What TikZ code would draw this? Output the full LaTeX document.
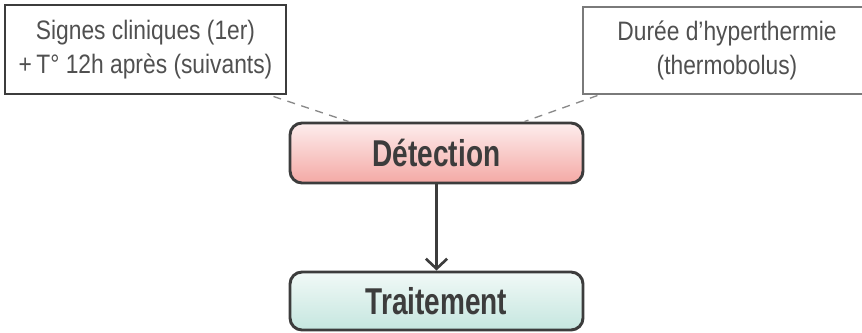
\documentclass[tikz,border=0pt]{standalone}
\usepackage{fontspec}
\setmainfont{Liberation Sans}[FakeStretch=0.855]
\newfontfamily\headfont{Liberation Sans}[FakeStretch=0.75]
\usetikzlibrary{arrows.meta,calc}

\definecolor{ink}{HTML}{3C3C3C}
\definecolor{txt}{HTML}{505050}
\definecolor{dashgray}{HTML}{8A8A8A}
\definecolor{thinborder}{HTML}{7A7A7A}
\definecolor{detecttop}{HTML}{FDEDED}
\definecolor{detectbot}{HTML}{F4A9A5}
\definecolor{treattop}{HTML}{F1F9F7}
\definecolor{treatbot}{HTML}{C5E6DF}

\tikzset{
  notebox/.style={rectangle, inner sep=0pt, align=center, text=txt,
    font=\fontsize{20pt}{26pt}\selectfont},
  boldnote/.style={notebox, draw=ink, line width=2.2pt},
  thinnote/.style={notebox, draw=thinborder, line width=0.8pt},
  stage/.style={rectangle, rounded corners=9pt, draw=ink, line width=2.2pt,
    inner sep=0pt, minimum width=219.75pt, text=ink,
    font=\headfont\bfseries\fontsize{28pt}{32pt}\selectfont},
  link/.style={dashgray, line width=1pt, dash pattern=on 6pt off 5pt},
  flow/.style={ink, line width=2pt, -{Straight Barb[length=7.5pt,width=16pt,line width=2pt]}}
}

\begin{document}
\begin{tikzpicture}[x=0.75pt,y=-0.75pt]
  \clip (0,0) rectangle (862,332);

  % source notes
  \node[boldnote, minimum width=210.75pt, minimum height=66.75pt] (signs) at (145.5,49.5)
    {Signes cliniques (1er)\\+\,T° 12h après (suivants)};
  \node[thinnote, minimum width=216pt, minimum height=65.25pt] (fever) at (727,50.5)
    {Durée d’hyperthermie\\(thermobolus)};

  % stages
  \node[stage, minimum height=45pt, top color=detecttop, bottom color=detectbot] (detect) at (436.5,153) {Détection};
  \node[stage, minimum height=43.5pt, top color=treattop, bottom color=treatbot] (treat) at (436.5,301) {Traitement};

  % dashed links from the notes to the detection stage
  \draw[link] ($(signs.south east)+(-14,1)$) -- ($(detect.north west)+(60,0)$);
  \draw[link] ($(fever.south west)+(15,1)$) -- ($(detect.north east)+(-60,0)$);

  % flow
  \draw[flow] (detect) -- (treat);
\end{tikzpicture}
\end{document}
